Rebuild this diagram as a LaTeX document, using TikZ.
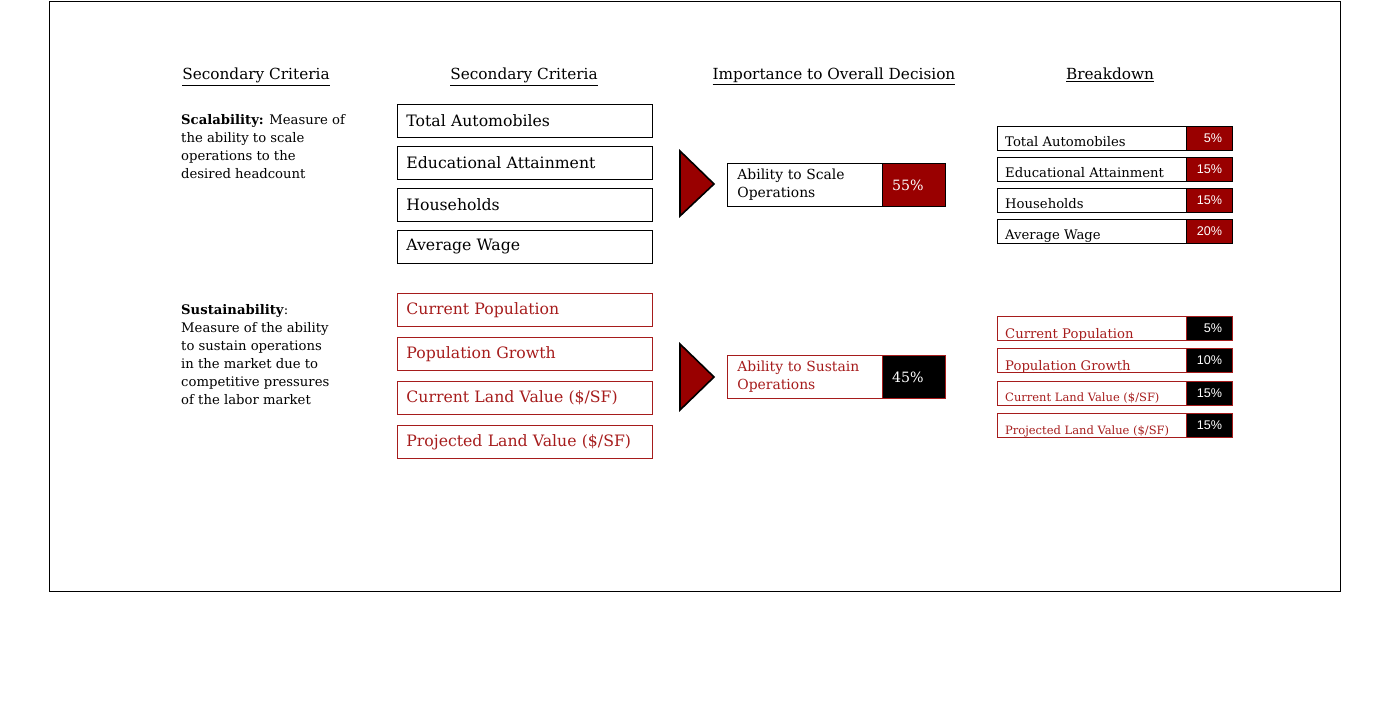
\documentclass[tikz,border=0pt]{standalone}
\usepackage{fontspec}
\setmainfont{DejaVu Serif}
\newfontfamily\pctfont{Liberation Sans}
\definecolor{dred}{HTML}{990000}
\definecolor{tred}{HTML}{A61C1C}
\begin{document}
\begin{tikzpicture}[x=1pt,y=-1pt,
  hdr/.style={font=\fontsize{15.3}{17}\selectfont, anchor=base},
  desc/.style={font=\fontsize{13.2}{18}\selectfont, anchor=north west, align=left, inner sep=0pt},
  crit/.style={draw=black, line width=0.8pt, anchor=north west, minimum width=255pt, minimum height=33pt, text width=237pt, inner xsep=9pt, align=left, font=\fontsize{15.7}{17}\selectfont},
  critr/.style={crit, draw=tred, text=tred},
  arrowshape/.style={fill=dred, draw=black, line width=1.6pt, line join=miter},
  mid/.style={draw=black, line width=0.8pt, anchor=north west, minimum width=155pt, minimum height=43pt, text width=135pt, inner xsep=10pt, align=left, font=\fontsize{13.9}{18}\selectfont},
  midpct/.style={draw=black, fill=dred, text=white, line width=0.8pt, anchor=north west, minimum width=63pt, minimum height=43pt, font=\fontsize{14.2}{16}\selectfont},
  bk/.style={draw=black, line width=0.8pt, anchor=north west, minimum width=189pt, minimum height=24pt, inner sep=0pt},
  bkpct/.style={draw=black, fill=dred, text=white, line width=0.8pt, anchor=north west, minimum width=46pt, minimum height=24pt, inner sep=0pt, font=\pctfont\fontsize{12.6}{14}\selectfont},
  bktxt/.style={anchor=base west, inner sep=0pt, font=\fontsize{13.2}{15}\selectfont},
  bksmall/.style={font=\fontsize{11.5}{13}\selectfont}
]
\useasboundingbox (0,0) rectangle (1383,703);
\node[draw=black, line width=0.6pt, anchor=north west, minimum width=1291pt, minimum height=590pt, inner sep=0pt] (frame) at (49,1) {};

% headers
\node[hdr] (h1) at (256,80) {\underline{Secondary Criteria}};
\node[hdr] (h2) at (524,80) {\underline{Secondary Criteria}};
\node[hdr] (h3) at (834,80) {\underline{Importance to Overall Decision}};
\node[hdr] (h4) at (1110,80) {\underline{Breakdown}};

% descriptions
\node[desc] (d1) at (181,114) {\textbf{Scalability:} Measure of\\the ability to scale\\operations to the\\desired headcount};
\node[desc] (d2) at (181,304) {\textbf{Sustainability}:\\Measure of the ability\\to sustain operations\\in the market due to\\competitive pressures\\of the labor market};

% criteria boxes
\node[crit] (c1) at (397,104) {Total Automobiles};
\node[crit] (c2) at (397,146) {Educational Attainment};
\node[crit] (c3) at (397,188) {Households};
\node[crit] (c4) at (397,230) {Average Wage};
\node[critr] (c5) at (397,293) {Current Population};
\node[critr] (c6) at (397,337) {Population Growth};
\node[critr] (c7) at (397,381) {Current Land Value (\$/SF)};
\node[critr] (c8) at (397,425) {Projected Land Value (\$/SF)};

% arrows
\draw[arrowshape] (680,151) -- (714,184) -- (680,216) -- cycle;
\draw[arrowshape] (680,344) -- (714,377) -- (680,410) -- cycle;

% importance
\node[mid] (m1) at (727,163) {Ability to Scale\\Operations};
\node[midpct] (p1) at (882,163) {55\%\kern12pt};
\node[mid, draw=tred, text=tred] (m2) at (727,355) {Ability to Sustain\\Operations};
\node[midpct, fill=black, draw=tred] (p2) at (882,355) {45\%\kern12pt};

% breakdown top
\node[bk] (k1) at (997,126) {};
\node[bkpct] (q1) at (1186,126) {\phantom{1}5\%};
\node[bktxt] (t1) at (1005,147) {Total Automobiles};
\node[bk] (k2) at (997,157) {};
\node[bkpct] (q2) at (1186,157) {15\%};
\node[bktxt] (t2) at (1005,178) {Educational Attainment};
\node[bk] (k3) at (997,188) {};
\node[bkpct] (q3) at (1186,188) {15\%};
\node[bktxt] (t3) at (1005,209) {Households};
\node[bk] (k4) at (997,219) {};
\node[bkpct] (q4) at (1186,219) {20\%};
\node[bktxt] (t4) at (1005,240) {Average Wage};

% breakdown bottom
\node[bk, draw=tred] (k5) at (997,316) {};
\node[bkpct, fill=black, draw=tred] (q5) at (1186,316) {\phantom{1}5\%};
\node[bktxt, text=tred] (t5) at (1005,338) {Current Population};
\node[bk, draw=tred] (k6) at (997,348) {};
\node[bkpct, fill=black, draw=tred] (q6) at (1186,348) {10\%};
\node[bktxt, text=tred] (t6) at (1005,370) {Population Growth};
\node[bk, draw=tred] (k7) at (997,381) {};
\node[bkpct, fill=black, draw=tred] (q7) at (1186,381) {15\%};
\node[bktxt, bksmall, text=tred] (t7) at (1005,401) {Current Land Value (\$/SF)};
\node[bk, draw=tred] (k8) at (997,413) {};
\node[bkpct, fill=black, draw=tred] (q8) at (1186,413) {15\%};
\node[bktxt, bksmall, text=tred] (t8) at (1005,434) {Projected Land Value (\$/SF)};
\end{tikzpicture}
\end{document}
